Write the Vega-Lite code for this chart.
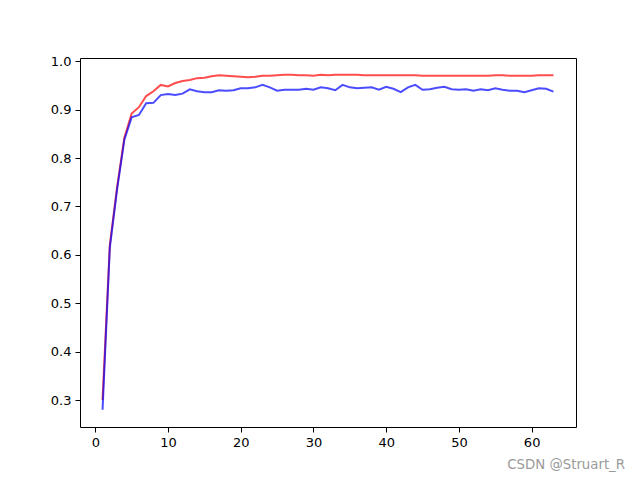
{
  "$schema": "https://vega.github.io/schema/vega-lite/v6.json",
  "width": 496,
  "height": 369,
  "autosize": {"type": "none"},
  "padding": {"left": 80, "top": 58, "right": 64, "bottom": 53},
  "background": "white",
  "config": {
    "view": {"stroke": "black", "strokeWidth": 1},
    "font": "DejaVu Sans",
    "axis": {
      "grid": false,
      "domain": false,
      "tickColor": "black",
      "tickSize": 5,
      "tickWidth": 1,
      "labelColor": "black",
      "labelFont": "DejaVu Sans",
      "labelFontSize": 13,
      "labelPadding": 4,
      "title": null
    }
  },
  "title": {
    "text": "CSDN @Struart_R",
    "orient": "bottom",
    "anchor": "end",
    "dx": 49,
    "offset": 9,
    "color": "#9a9a9a",
    "font": "DejaVu Sans",
    "fontSize": 13.3,
    "fontWeight": "normal"
  },
  "data": {
    "values": [
      {"epoch": 1, "train": 0.300, "val": 0.280},
      {"epoch": 2, "train": 0.620, "val": 0.615},
      {"epoch": 3, "train": 0.740, "val": 0.735},
      {"epoch": 4, "train": 0.842, "val": 0.838},
      {"epoch": 5, "train": 0.892, "val": 0.884},
      {"epoch": 6, "train": 0.905, "val": 0.889},
      {"epoch": 7, "train": 0.928, "val": 0.913},
      {"epoch": 8, "train": 0.938, "val": 0.914},
      {"epoch": 9, "train": 0.951, "val": 0.930},
      {"epoch": 10, "train": 0.948, "val": 0.932},
      {"epoch": 11, "train": 0.955, "val": 0.930},
      {"epoch": 12, "train": 0.959, "val": 0.933},
      {"epoch": 13, "train": 0.961, "val": 0.942},
      {"epoch": 14, "train": 0.965, "val": 0.938},
      {"epoch": 15, "train": 0.966, "val": 0.936},
      {"epoch": 16, "train": 0.969, "val": 0.936},
      {"epoch": 17, "train": 0.971, "val": 0.940},
      {"epoch": 18, "train": 0.970, "val": 0.939},
      {"epoch": 19, "train": 0.969, "val": 0.940},
      {"epoch": 20, "train": 0.968, "val": 0.944},
      {"epoch": 21, "train": 0.967, "val": 0.944},
      {"epoch": 22, "train": 0.968, "val": 0.946},
      {"epoch": 23, "train": 0.970, "val": 0.951},
      {"epoch": 24, "train": 0.970, "val": 0.946},
      {"epoch": 25, "train": 0.971, "val": 0.939},
      {"epoch": 26, "train": 0.972, "val": 0.941},
      {"epoch": 27, "train": 0.972, "val": 0.941},
      {"epoch": 28, "train": 0.971, "val": 0.941},
      {"epoch": 29, "train": 0.971, "val": 0.943},
      {"epoch": 30, "train": 0.970, "val": 0.941},
      {"epoch": 31, "train": 0.972, "val": 0.946},
      {"epoch": 32, "train": 0.971, "val": 0.944},
      {"epoch": 33, "train": 0.972, "val": 0.940},
      {"epoch": 34, "train": 0.972, "val": 0.951},
      {"epoch": 35, "train": 0.972, "val": 0.946},
      {"epoch": 36, "train": 0.972, "val": 0.944},
      {"epoch": 37, "train": 0.971, "val": 0.945},
      {"epoch": 38, "train": 0.971, "val": 0.946},
      {"epoch": 39, "train": 0.971, "val": 0.941},
      {"epoch": 40, "train": 0.971, "val": 0.947},
      {"epoch": 41, "train": 0.971, "val": 0.943},
      {"epoch": 42, "train": 0.971, "val": 0.936},
      {"epoch": 43, "train": 0.971, "val": 0.946},
      {"epoch": 44, "train": 0.971, "val": 0.951},
      {"epoch": 45, "train": 0.970, "val": 0.941},
      {"epoch": 46, "train": 0.970, "val": 0.942},
      {"epoch": 47, "train": 0.970, "val": 0.945},
      {"epoch": 48, "train": 0.970, "val": 0.947},
      {"epoch": 49, "train": 0.970, "val": 0.942},
      {"epoch": 50, "train": 0.970, "val": 0.941},
      {"epoch": 51, "train": 0.970, "val": 0.942},
      {"epoch": 52, "train": 0.970, "val": 0.939},
      {"epoch": 53, "train": 0.970, "val": 0.942},
      {"epoch": 54, "train": 0.970, "val": 0.940},
      {"epoch": 55, "train": 0.971, "val": 0.944},
      {"epoch": 56, "train": 0.971, "val": 0.941},
      {"epoch": 57, "train": 0.970, "val": 0.939},
      {"epoch": 58, "train": 0.970, "val": 0.939},
      {"epoch": 59, "train": 0.970, "val": 0.936},
      {"epoch": 60, "train": 0.970, "val": 0.940},
      {"epoch": 61, "train": 0.971, "val": 0.944},
      {"epoch": 62, "train": 0.971, "val": 0.943},
      {"epoch": 63, "train": 0.971, "val": 0.937}
    ]
  },
  "transform": [{"fold": ["train", "val"], "as": ["series", "acc"]}],
  "mark": {"type": "line", "strokeWidth": 2, "opacity": 0.7},
  "encoding": {
    "x": {
      "field": "epoch",
      "type": "quantitative",
      "scale": {"domain": [-2.1, 66.1], "nice": false, "zero": false},
      "axis": {"values": [0, 10, 20, 30, 40, 50, 60], "format": "d"}
    },
    "y": {
      "field": "acc",
      "type": "quantitative",
      "scale": {"domain": [0.2444, 1.0066], "nice": false, "zero": false},
      "axis": {"values": [0.3, 0.4, 0.5, 0.6, 0.7, 0.8, 0.9, 1.0], "format": ".1f"}
    },
    "color": {
      "field": "series",
      "type": "nominal",
      "scale": {"domain": ["train", "val"], "range": ["#ff0000", "#0000ff"]},
      "legend": null
    },
    "order": {"field": "epoch", "type": "quantitative"}
  }
}
